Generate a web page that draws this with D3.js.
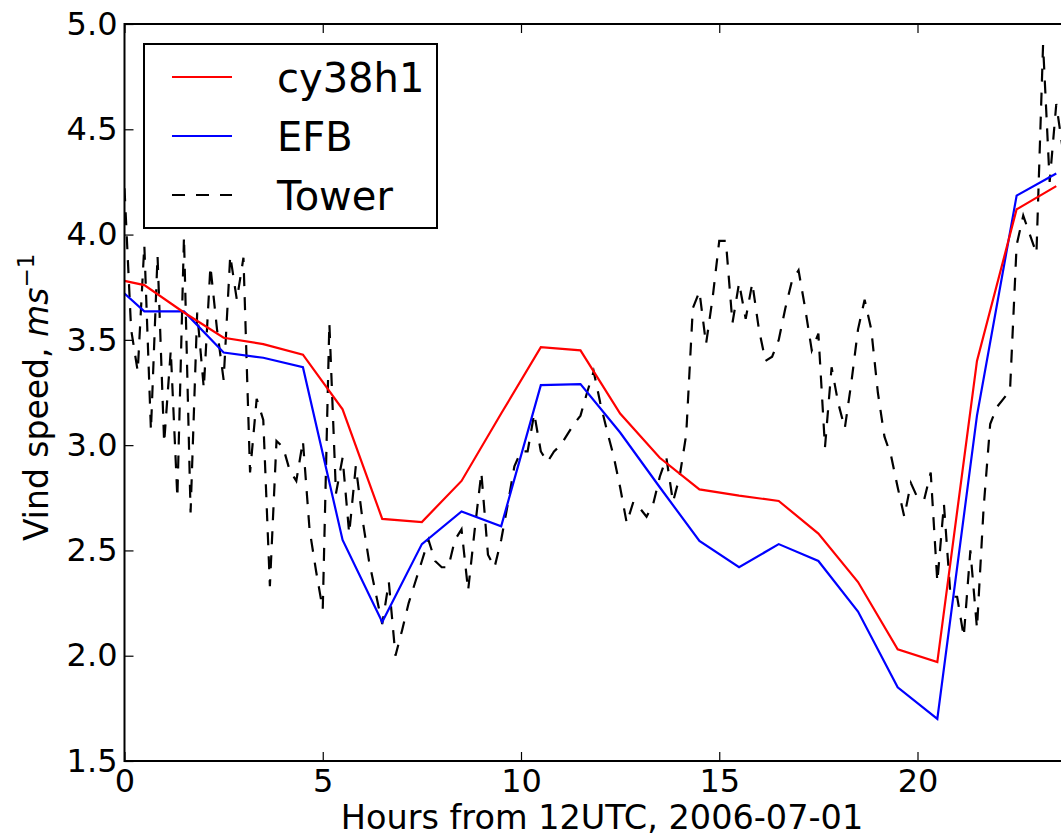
<!DOCTYPE html>
<html>
<head>
<meta charset="utf-8">
<script src="https://cdn.jsdelivr.net/npm/d3@7"></script>
<style>
  html, body { margin: 0; padding: 0; background: #fff; }
  svg { display: block; font-family: "DejaVu Sans", sans-serif; }
</style>
</head>
<body>
<div id="chart"></div>
<script>
// Wind speed: two model runs (hourly, at half hours) against the tower record (10-minute)

var modelHours = [0, 0.5, 1.5, 2.5, 3.5, 4.5, 5.5, 6.5, 7.5, 8.5, 9.5, 10.5, 11.5,
                  12.5, 13.5, 14.5, 15.5, 16.5, 17.5, 18.5, 19.5, 20.5, 21.5, 22.5, 23.5];

var cy38h1 = [3.78, 3.76, 3.63, 3.51, 3.48, 3.43, 3.17, 2.65, 2.635, 2.83, 3.15, 3.465, 3.45,
              3.15, 2.94, 2.79, 2.76, 2.735, 2.58, 2.35, 2.03, 1.97, 3.40, 4.12, 4.23];

var efb = [3.72, 3.635, 3.635, 3.44, 3.415, 3.37, 2.55, 2.16, 2.53, 2.685, 2.615, 3.285, 3.29,
           3.06, 2.80, 2.545, 2.42, 2.53, 2.45, 2.21, 1.85, 1.70, 3.14, 4.185, 4.29];

// tower record, one value every 10 minutes starting at hour 0
var towerStepHours = 1 / 6;
var tower = [
  4.22, 3.55, 3.35, 3.95, 3.07, 3.90, 3.01, 3.45, 2.75, 3.99, 2.68, 3.63,
  3.27, 3.85, 3.55, 3.31, 3.90, 3.69, 3.89, 2.87, 3.22, 3.12, 2.33, 3.02,
  2.99, 2.88, 2.83, 3.02, 2.60, 2.40, 2.22, 3.58, 2.77, 2.94, 2.58, 2.90,
  2.65, 2.45, 2.30, 2.15, 2.35, 2.00, 2.12, 2.25, 2.35, 2.45, 2.55, 2.45,
  2.42, 2.42, 2.55, 2.60, 2.31, 2.60, 2.87, 2.48, 2.42, 2.55, 2.72, 2.90,
  2.97, 2.97, 3.15, 2.97, 2.92, 2.97, 3.00, 3.05, 3.10, 3.14, 3.25, 3.35,
  3.20, 3.07, 2.95, 2.80, 2.63, 2.73, 2.70, 2.66, 2.72, 2.85, 2.94, 2.73,
  2.85, 3.05, 3.65, 3.73, 3.48, 3.70, 3.97, 3.97, 3.58, 3.77, 3.60, 3.77,
  3.55, 3.40, 3.42, 3.50, 3.65, 3.78, 3.83, 3.65, 3.45, 3.53, 2.99, 3.37,
  3.20, 3.08, 3.30, 3.55, 3.69, 3.55, 3.25, 3.04, 2.95, 2.80, 2.66, 2.82,
  2.75, 2.74, 2.87, 2.35, 2.72, 2.28, 2.28, 2.09, 2.50, 2.13, 2.70, 3.10,
  3.18, 3.22, 3.26, 3.95, 4.09, 4.00, 3.91, 4.90, 4.25, 4.62, 4.40
];

var xTicks = [0, 5, 10, 15, 20];
var yTicks = [1.5, 2.0, 2.5, 3.0, 3.5, 4.0, 4.5, 5.0];
var legendLabels = ["cy38h1", "EFB", "Tower"];

var totalW = 1061, totalH = 838;
var margin = { top: 24, left: 124.5 };
var pxPerHour = 39.65;
var width = 24 * pxPerHour;       // axis runs to 24 h, right part falls outside the picture
var height = 737;

var svg = d3.select("#chart").append("svg")
    .attr("width", totalW)
    .attr("height", totalH);

var g = svg.append("g")
    .attr("transform", "translate(" + margin.left + "," + margin.top + ")");

var x = d3.scaleLinear().domain([0, 24]).range([0, width]);
var y = d3.scaleLinear().domain([1.5, 5.0]).range([height, 0]);

// --- Lines ---
var lineGen = d3.line()
    .x(function(d) { return x(d[0]); })
    .y(function(d) { return y(d[1]); });

svg.append("clipPath").attr("id", "plotclip")
  .append("rect").attr("width", width).attr("height", height);

var lines = g.append("g").attr("clip-path", "url(#plotclip)");

lines.append("path")
    .datum(tower.map(function(v, i) { return [i * towerStepHours, v]; }))
    .attr("fill", "none")
    .attr("stroke", "#000")
    .attr("stroke-width", 2.2)
    .attr("stroke-dasharray", "13,11")
    .attr("d", lineGen);

lines.append("path")
    .datum(modelHours.map(function(h, i) { return [h, efb[i]]; }))
    .attr("fill", "none")
    .attr("stroke", "#0000ff")
    .attr("stroke-width", 2.2)
    .attr("d", lineGen);

lines.append("path")
    .datum(modelHours.map(function(h, i) { return [h, cy38h1[i]]; }))
    .attr("fill", "none")
    .attr("stroke", "#ff0000")
    .attr("stroke-width", 2.2)
    .attr("d", lineGen);

// --- Axes (ticks point inward) ---
var xAxis = g.append("g")
    .attr("transform", "translate(0," + height + ")")
    .call(d3.axisBottom(x).tickValues(xTicks).tickFormat(d3.format("d"))
        .tickSizeInner(-9).tickSizeOuter(0).tickPadding(8));
g.append("g")
    .call(d3.axisTop(x).tickValues(xTicks).tickFormat("")
        .tickSizeInner(-9).tickSizeOuter(0));
var yAxis = g.append("g")
    .call(d3.axisLeft(y).tickValues(yTicks).tickFormat(d3.format(".1f"))
        .tickSizeInner(-9).tickSizeOuter(0).tickPadding(7));

[xAxis, yAxis].forEach(function(ax) {
    ax.selectAll("text")
        .attr("font-family", "DejaVu Sans")
        .style("font-size", "32px")
        .attr("fill", "#000");
});
g.selectAll(".domain").remove();
g.selectAll(".tick line").attr("stroke", "#000").attr("stroke-width", 1.2);

// frame
g.append("rect")
    .attr("width", width)
    .attr("height", height)
    .attr("fill", "none")
    .attr("stroke", "#000")
    .attr("stroke-width", 2);

// --- Axis labels ---
svg.append("text")
    .attr("x", 602)
    .attr("y", 829)
    .attr("text-anchor", "middle")
    .style("font-size", "33.5px")
    .text("Hours from 12UTC, 2006-07-01");

var yLabel = svg.append("text")
    .attr("transform", "translate(48,541) rotate(-90)")
    .attr("text-anchor", "start")
    .style("font-size", "33px");
yLabel.append("tspan").text("Vind speed, ");
yLabel.append("tspan").style("font-style", "italic").text("ms");
yLabel.append("tspan").attr("dy", -14).style("font-size", "23px").text("\u22121");

// --- Legend ---
var legend = svg.append("g")
    .attr("transform", "translate(144,44)");

legend.append("rect")
    .attr("width", 293)
    .attr("height", 184)
    .attr("fill", "#fff")
    .attr("stroke", "#000")
    .attr("stroke-width", 2);

var legendStyles = [
    { color: "#ff0000", dash: null },
    { color: "#0000ff", dash: null },
    { color: "#000", dash: "13,11" }
];

legendLabels.forEach(function(label, i) {
    var ly = 33 + i * 59;
    legend.append("line")
        .attr("x1", 28).attr("x2", 88)
        .attr("y1", ly).attr("y2", ly)
        .attr("stroke", legendStyles[i].color)
        .attr("stroke-width", 2.2)
        .attr("stroke-dasharray", legendStyles[i].dash);
    legend.append("text")
        .attr("x", 133)
        .attr("y", ly + 14.5)
        .style("font-size", "40px")
        .text(label);
});
</script>
</body>
</html>
